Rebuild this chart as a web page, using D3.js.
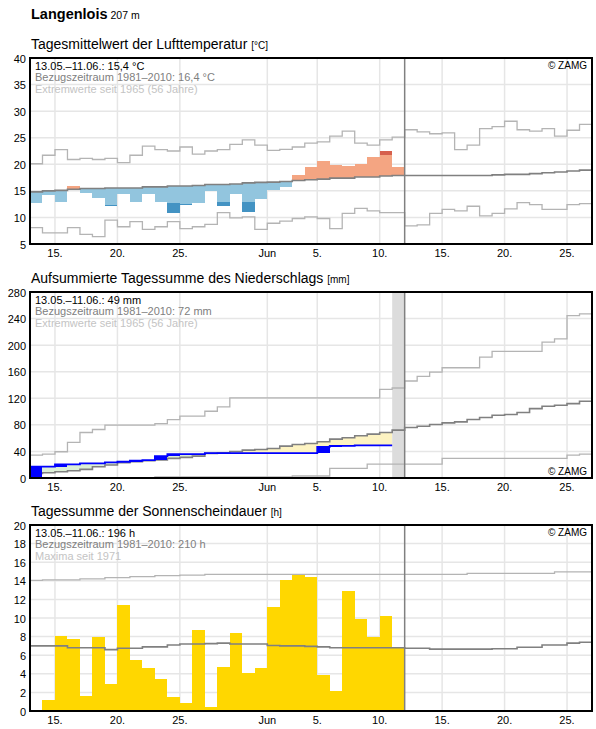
<!DOCTYPE html>
<html>
<head>
<meta charset="utf-8">
<script src="https://cdn.jsdelivr.net/npm/d3@7.9.0/dist/d3.min.js"></script>
<style>
  body { margin: 0; background: #fff; font-family: "Liberation Sans", Arial, sans-serif; }
  text { font-family: "Liberation Sans", Arial, sans-serif; }
</style>
</head>
<body>
<svg id="chart" width="596" height="729"></svg>
<script>
// ---- data (one value per day, starting 13 May 2021) ----
const firstDay = '2021-05-13';
const lastDay = '2021-06-27';   // end of x domain
const todayDay = '2021-06-12';

const tickDates = ['2021-05-15', '2021-05-20', '2021-05-25', '2021-06-01', '2021-06-05',
  '2021-06-10', '2021-06-15', '2021-06-20', '2021-06-25'];
const tickLabels = ['15.', '20.', '25.', 'Jun', '5.', '10.', '15.', '20.', '25.'];

// temperature, daily mean [°C]
const tempDay = [12.75, 14.2, 12.9, 15.9, 14.6, 13.7, 12.1, 14.4, 12.9, 14.4, 12.9, 10.9, 12.3, 12.75,
  15.0, 12.2, 14.4, 11.1, 13.4, 15.1, 15.75, 17.9, 19.4, 20.6, 19.8, 19.6, 20.0, 21.4, 22.5, 19.4];
// where the darker shade starts (strong deviation)
const tempDark = [null, null, null, null, null, null, 12.3, null, null, null, null, 12.75, 12.6, null,
  null, 12.9, null, 12.9, null, null, null, null, null, null, null, null, null, null, 21.75, null];
const tempMean = [14.8, 15.0, 15.1, 15.3, 15.45, 15.45, 15.55, 15.55, 15.55, 15.75, 15.75, 15.9, 15.9,
  16.0, 16.2, 16.2, 16.3, 16.5, 16.6, 16.65, 16.75, 16.95, 17.1, 17.2, 17.4, 17.4, 17.6, 17.6, 17.8,
  17.9, 17.9, 17.9, 17.9, 17.9, 17.9, 17.9, 17.9, 18.0, 18.1, 18.1, 18.25, 18.4, 18.55, 18.75, 18.9];
const tempMax = [20.1, 21.7, 22.75, 20.9, 21.1, 20.9, 21.1, 20.3, 21.7, 23.4, 22.75, 22.5, 23.25, 21.9,
  22.5, 22.75, 23.75, 24.6, 23.6, 22.6, 22.8, 23.25, 24.0, 24.2, 25.3, 26.25, 24.0, 23.6, 24.6, 25.1,
  26.5, 26.1, 25.75, 25.9, 22.75, 23.6, 26.7, 27.1, 28.1, 26.5, 26.25, 26.7, 25.3, 26.4, 27.5];
const tempMin = [8.1, 7.1, 7.1, 8.1, 6.8, 6.4, 9.5, 8.25, 9.2, 7.75, 8.25, 9.2, 7.9, 8.25, 8.7, 10.9,
  9.9, 10.1, 7.75, 8.9, 9.3, 9.8, 10.1, 9.8, 7.9, 10.75, 11.7, 11.25, 10.9, 10.9, 8.4, 8.6, 10.75,
  11.5, 11.25, 12.1, 10.3, 10.75, 11.6, 12.8, 12.4, 11.5, 11.5, 12.4, 12.6];

// precipitation, accumulated [mm]
const precObs = [17, 17, 20.5, 20.5, 22, 22, 23.5, 24.5, 26, 27, 33, 36, 36, 36, 37.5, 37.5, 37.5,
  37.5, 37.5, 37.5, 37.5, 37.5, 37.5, 47, 48.5, 48.5, 49, 49, 49, null];
const precMean = [7, 8, 9.5, 11, 13, 17, 19.5, 23, 24.5, 26, 27, 29.5, 31, 33, 37, 38, 40, 42, 43,
  44.5, 48, 50.5, 52, 54.5, 58.5, 60.5, 63.5, 66, 68.5, 72, 76, 78, 80.5, 83, 84.5, 88, 91, 94.5,
  95.5, 98.5, 104.5, 108, 109.5, 112, 115.5];
const precMax = [34.5, 36, 39.5, 53.5, 68.5, 73, 79.5, 79.5, 79.5, 79.5, 82, 88, 93, 93, 100.5, 107,
  120.5, 120.5, 120.5, 120.5, 120.5, 120.5, 120.5, 120.5, 120.5, 120.5, 120.5, 120.5, 133.5, 135.5,
  146, 153, 159.5, 166, 166, 166, 182, 190.5, 190.5, 190.5, 190.5, 204.5, 209.5, 244.5, 247];
const precMin = [0, 0, 0, 0, 0, 0, 0, 0, 0, 0, 1.5, 1.5, 1.5, 1.5, 1.5, 1.5, 1.5, 1.5, 1.5, 1.5, 1.5,
  3, 3, 3, 14.5, 14.5, 14.5, 21, 21, 21, 21, 21, 21, 29.5, 29.5, 29.5, 29.5, 29.5, 29.5, 29.5, 29.5,
  29.5, 29.5, 34.5, 36];
const precMissing = ['2021-06-11'];

// sunshine duration [h]
const sunDay = [0, 1.2, 8.1, 7.75, 1.6, 7.95, 2.9, 11.4, 5.5, 4.6, 3.45, 1.5, 0.9, 8.7, 0.45, 4.75,
  8.4, 4.1, 4.6, 11.2, 14.1, 14.6, 14.4, 3.9, 2.2, 12.9, 9.85, 8.0, 10.2, 6.9];
const sunMean = [7.0, 7.0, 7.0, 6.8, 6.8, 6.8, 6.6, 6.75, 6.75, 6.9, 6.9, 7.1, 7.2, 7.2, 7.25, 7.3,
  7.2, 7.2, 7.2, 7.05, 7.0, 7.0, 6.95, 6.9, 6.8, 6.8, 6.8, 6.8, 6.8, 6.8, 6.75, 6.75, 6.65, 6.65,
  6.65, 6.65, 6.65, 6.7, 6.7, 6.85, 6.85, 7.1, 7.1, 7.3, 7.4];
const sunMax = [14.05, 14.1, 14.1, 14.1, 14.2, 14.2, 14.35, 14.35, 14.45, 14.45, 14.55, 14.55, 14.6,
  14.6, 14.7, 14.7, 14.7, 14.7, 14.7, 14.7, 14.7, 14.7, 14.7, 14.7, 14.7, 14.7, 14.7, 14.7, 14.7,
  14.7, 14.7, 14.7, 14.7, 14.7, 14.7, 14.8, 14.8, 14.8, 14.8, 14.8, 14.8, 14.8, 14.95, 14.95, 14.95];

// ---- layout ----
const svg = d3.select('#chart');
const parse = d3.utcParse('%Y-%m-%d');
const start = parse(firstDay);
const day = (i) => d3.utcDay.offset(start, i);
const left = 30, right = 592, boxH = 186;

const x = d3.scaleUtc().domain([start, parse(lastDay)]).range([left, right]);

function stepLine(values, y) {
  const pts = [];
  values.forEach((v, i) => {
    if (v === null) return;
    pts.push([x(day(i)), y(v)]);
    if (i === values.length - 1 || values[i + 1] === null) pts.push([x(day(i + 1)), y(v), 'end']);
  });
  // split where data stops
  return d3.line().curve(d3.curveStepAfter)(pts);
}

function panel(opt) {
  const top = opt.top;
  const g = svg.append('g');
  const y = d3.scaleLinear().domain(opt.yDomain).range([top + boxH, top]);

  // grid
  g.selectAll('.hg').data(opt.yTicks).join('line')
    .attr('x1', left).attr('x2', right)
    .attr('y1', (d) => y(d)).attr('y2', (d) => y(d))
    .attr('stroke', '#e6e6e6').attr('stroke-width', 1.5);
  g.selectAll('.vg').data(tickDates).join('line')
    .attr('x1', (d) => x(parse(d))).attr('x2', (d) => x(parse(d)))
    .attr('y1', top).attr('y2', top + boxH)
    .attr('stroke', '#e6e6e6').attr('stroke-width', 1.5);

  const clipId = 'clip' + top;
  svg.append('clipPath').attr('id', clipId).append('rect')
    .attr('x', left).attr('y', top).attr('width', right - left).attr('height', boxH);
  const c = g.append('g').attr('clip-path', `url(#${clipId})`);

  opt.draw(c, y);

  // today line
  g.append('line')
    .attr('x1', x(parse(todayDay))).attr('x2', x(parse(todayDay)))
    .attr('y1', top).attr('y2', top + boxH)
    .attr('stroke', '#808080').attr('stroke-width', 1.5);

  // box
  g.append('rect')
    .attr('x', left).attr('y', top).attr('width', right - left).attr('height', boxH)
    .attr('fill', 'none').attr('stroke', '#000').attr('stroke-width', 2);

  // y tick labels
  g.selectAll('.yl').data(opt.yTicks).join('text')
    .attr('x', 26).attr('y', (d) => y(d) + 4.5)
    .attr('text-anchor', 'end').attr('font-size', 11).attr('fill', '#000')
    .text((d) => d);

  // x tick labels
  g.selectAll('.xl').data(tickDates).join('text')
    .attr('x', (d) => x(parse(d))).attr('y', top + boxH + 12.5)
    .attr('text-anchor', 'middle').attr('font-size', 11).attr('fill', '#000')
    .text((d, i) => tickLabels[i]);

  // title
  const t = g.append('text').attr('x', 31).attr('y', top - 9).attr('font-size', 14).attr('fill', '#000');
  t.append('tspan').text(opt.title + ' ');
  t.append('tspan').attr('font-size', 10).text(opt.unit);

  // info lines
  const colors = ['#000', '#808080', '#c4c4c4'];
  opt.info.forEach((s, i) => {
    g.append('text').attr('x', 35).attr('y', top + 11.5 + 11.7 * i)
      .attr('font-size', 11).attr('fill', colors[i]).text(s);
  });

  g.append('text').attr('x', 587).attr('y', opt.copyBottom ? top + boxH - 3 : top + 11)
    .attr('text-anchor', 'end').attr('font-size', 10).attr('fill', '#000').text('© ZAMG');
}

svg.append('text').attr('x', 31).attr('y', 19)
  .attr('font-size', 14.5).attr('font-weight', 'bold').attr('fill', '#000')
  .text('Langenlois')
  .append('tspan').attr('font-weight', 'normal').attr('font-size', 10.5).text(' 207 m');

const dayW = x(day(1)) - x(day(0));

// ---- temperature ----
panel({
  top: 58, yDomain: [5, 40], yTicks: [5, 10, 15, 20, 25, 30, 35, 40],
  title: 'Tagesmittelwert der Lufttemperatur', unit: '[°C]',
  info: ['13.05.–11.06.: 15,4 °C', 'Bezugszeitraum 1981–2010: 16,4 °C', 'Extremwerte seit 1965 (56 Jahre)'],
  draw(c, y) {
    tempDay.forEach((v, i) => {
      const m = tempMean[i];
      const warm = v > m;
      const d = tempDark[i];
      const lightEnd = d === null ? v : d;
      c.append('rect').attr('x', x(day(i))).attr('width', dayW)
        .attr('y', y(Math.max(m, lightEnd))).attr('height', Math.abs(y(m) - y(lightEnd)))
        .attr('fill', warm ? '#f4a582' : '#92c5de').attr('shape-rendering', 'crispEdges');
      if (d !== null) {
        c.append('rect').attr('x', x(day(i))).attr('width', dayW)
          .attr('y', y(Math.max(d, v))).attr('height', Math.abs(y(d) - y(v)))
          .attr('fill', warm ? '#d6604d' : '#4393c3').attr('shape-rendering', 'crispEdges');
      }
    });
    [tempMax, tempMin].forEach((arr) => {
      c.append('path').attr('d', stepLine(arr, y)).attr('fill', 'none')
        .attr('stroke', '#b4b4b4').attr('stroke-width', 1.3);
    });
    c.append('path').attr('d', stepLine(tempMean, y)).attr('fill', 'none')
      .attr('stroke', '#808080').attr('stroke-width', 1.6);
  }
});

// ---- precipitation ----
panel({
  top: 292, yDomain: [0, 280], yTicks: [0, 40, 80, 120, 160, 200, 240, 280],
  title: 'Aufsummierte Tagessumme des Niederschlags', unit: '[mm]',
  info: ['13.05.–11.06.: 49 mm', 'Bezugszeitraum 1981–2010: 72 mm', 'Extremwerte seit 1965 (56 Jahre)'],
  copyBottom: true,
  draw(c, y) {
    precMissing.forEach((d) => {
      const t0 = parse(d);
      c.append('rect').attr('x', x(t0)).attr('width', x(d3.utcDay.offset(t0, 1)) - x(t0))
        .attr('y', y(280)).attr('height', boxH).attr('fill', '#dcdcdc');
    });
    precObs.forEach((v, i) => {
      if (v === null) return;
      const m = precMean[i];
      c.append('rect').attr('x', x(day(i))).attr('width', dayW)
        .attr('y', y(Math.max(v, m))).attr('height', Math.abs(y(v) - y(m)))
        .attr('fill', v > m ? '#dcefd6' : '#fdf3c2').attr('shape-rendering', 'crispEdges');
    });
    [precMax, precMin].forEach((arr) => {
      c.append('path').attr('d', stepLine(arr, y)).attr('fill', 'none')
        .attr('stroke', '#b4b4b4').attr('stroke-width', 1.3);
    });
    c.append('path').attr('d', stepLine(precMean, y)).attr('fill', 'none')
      .attr('stroke', '#808080').attr('stroke-width', 1.6);
    precObs.forEach((v, i) => {
      if (v === null) return;
      const prev = i === 0 ? 0 : precObs[i - 1];
      if (v - prev > 0) {
        c.append('rect').attr('x', x(day(i))).attr('width', dayW)
          .attr('y', y(v)).attr('height', y(prev) - y(v))
          .attr('fill', '#0000ff').attr('shape-rendering', 'crispEdges');
      }
    });
    c.append('path').attr('d', stepLine(precObs, y)).attr('fill', 'none')
      .attr('stroke', '#0000ff').attr('stroke-width', 1.8);
  }
});

// ---- sunshine ----
panel({
  top: 525, yDomain: [0, 20], yTicks: [0, 2, 4, 6, 8, 10, 12, 14, 16, 18, 20],
  title: 'Tagessumme der Sonnenscheindauer', unit: '[h]',
  info: ['13.05.–11.06.: 196 h', 'Bezugszeitraum 1981–2010: 210 h', 'Maxima seit 1971'],
  draw(c, y) {
    c.selectAll('.sun').data(sunDay).join('rect')
      .attr('x', (d, i) => x(day(i))).attr('width', dayW)
      .attr('y', (d) => y(d)).attr('height', (d) => y(0) - y(d))
      .attr('fill', '#ffd700').attr('shape-rendering', 'crispEdges');
    c.append('path').attr('d', stepLine(sunMax, y)).attr('fill', 'none')
      .attr('stroke', '#b4b4b4').attr('stroke-width', 1.3);
    c.append('path').attr('d', stepLine(sunMean, y)).attr('fill', 'none')
      .attr('stroke', '#808080').attr('stroke-width', 1.6);
  }
});
</script>
</body>
</html>
